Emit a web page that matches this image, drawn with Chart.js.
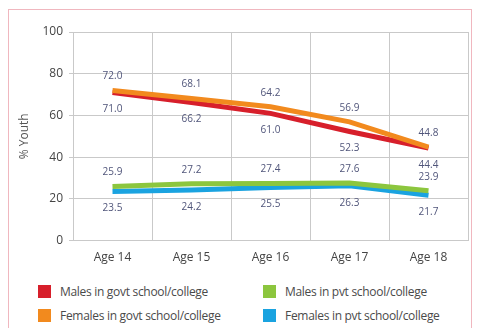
<!DOCTYPE html>
<html><head><meta charset="utf-8">
<script src="https://cdn.jsdelivr.net/npm/chart.js@4/dist/chart.umd.min.js"></script>
<style>
html,body{margin:0;padding:0;background:#fff;}
#wrap{position:relative;width:482px;height:328px;overflow:hidden;font-family:"Open Sans",sans-serif;}
#frame{position:absolute;left:8px;top:9px;width:464px;height:330px;border:1.5px solid #f0b7bf;box-sizing:border-box;}
#cv{position:absolute;left:0;top:0;}
.leg{position:absolute;font-size:12px;color:#4a4a4a;white-space:nowrap;line-height:14px;letter-spacing:-0.3px;}
.leg span{display:inline-block;width:13px;height:13px;vertical-align:-2px;margin-right:9px;}
</style></head><body>
<div id="wrap">
<div id="frame"></div>
<canvas id="cv" width="482" height="279"></canvas>
<div id="legend"></div>
</div>
<script>
const categories = ["Age 14","Age 15","Age 16","Age 17","Age 18"];
const malesGovt = [71.0, 66.2, 61.0, 52.3, 44.4];
const femalesGovt = [72.0, 68.1, 64.2, 56.9, 44.8];
const malesPvt = [25.9, 27.2, 27.4, 27.6, 23.9];
const femalesPvt = [23.5, 24.2, 25.5, 26.3, 21.7];
const seriesNames = ["Males in govt school/college","Females in govt school/college","Males in pvt school/college","Females in pvt school/college"];
const colors = ["#d71f2b","#f28a1e","#8cc63e","#1aa3e0"];

// label placement per dataset (drawing order): -1 above, +1 below
const labelSide = [-1, 1, -1, 1];

const labelPlugin = {
  id:'valLabels',
  afterDatasetsDraw(chart){
    const ctx = chart.ctx;
    ctx.save();
    ctx.font = '10px "Open Sans", sans-serif';
    ctx.fillStyle = '#50557a';
    ctx.textAlign = 'center';
    ctx.textBaseline = 'middle';
    chart.data.datasets.forEach((ds, di) => {
      const meta = chart.getDatasetMeta(di);
      meta.data.forEach((pt, i) => {
        const off = labelSide[di] < 0 ? -14 : 17;
        ctx.fillText(ds.data[i].toFixed(1), pt.x, pt.y + off);
      });
    });
    ctx.restore();
  }
};

const mk = (name, data, c) => ({label:name, data, borderColor:c, backgroundColor:c, borderWidth:5, pointRadius:0, tension:0, fill:false});

new Chart(document.getElementById('cv'), {
  type:'line',
  data:{labels:categories, datasets:[
    mk(seriesNames[1], femalesGovt, colors[1]),
    mk(seriesNames[0], malesGovt, colors[0]),
    mk(seriesNames[2], malesPvt, colors[2]),
    mk(seriesNames[3], femalesPvt, colors[3])
  ]},
  options:{
    responsive:false, animation:false,
    layout:{padding:{left:15,right:14,top:32,bottom:4}},
    plugins:{legend:{display:false}, tooltip:{enabled:false}},
    scales:{
      x:{offset:true, grid:{color:'#c9c9c9', offset:true, drawTicks:false}, border:{color:'#c9c9c9'},
         ticks:{color:'#444', font:{family:'"Open Sans", sans-serif', size:12}, padding:10}},
      y:{min:0,max:100, ticks:{stepSize:20,color:'#444', font:{family:'"Open Sans", sans-serif', size:12}, padding:6},
         grid:{color:'#c9c9c9', tickLength:4}, border:{color:'#c9c9c9'},
         title:{display:true,text:'% Youth',color:'#555',font:{family:'"Open Sans", sans-serif', size:12},padding:2},
         afterFit(s){ s.width = 58; }}
    }
  },
  plugins:[labelPlugin]
});

// HTML legend
const legPos = [[38,285],[263,285],[38,309],[263,309]];
const order = [0,2,1,3];
const lg = document.getElementById('legend');
order.forEach((si, k) => {
  const d = document.createElement('div');
  d.className='leg';
  d.style.left = legPos[k][0]+'px';
  d.style.top = legPos[k][1]+'px';
  d.innerHTML = '<span style="background:'+colors[si]+'"></span>'+seriesNames[si];
  lg.appendChild(d);
});
</script>
</body></html>
